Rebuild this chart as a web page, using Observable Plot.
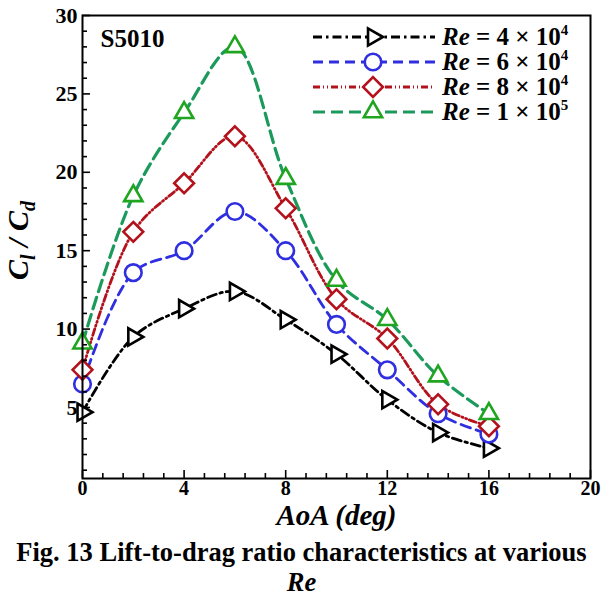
<!DOCTYPE html>
<html><head><meta charset="utf-8">
<script src="https://cdn.jsdelivr.net/npm/d3@7"></script>
<script src="https://cdn.jsdelivr.net/npm/@observablehq/plot@0.6"></script>
<style>
body{margin:0;background:#fff;}
#wrap{width:603px;}
.cap{width:603px;font-family:"Liberation Serif","Times New Roman",serif;font-weight:bold;font-size:26.5px;line-height:30px;text-align:center;color:#000;white-space:nowrap;}
</style></head><body>
<div id="wrap"></div>
<div class="cap">Fig. 13 Lift-to-drag ratio characteristics at various<br><i>Re</i></div>
<script>
// ---- data ----
const aoa  = [0, 2, 4, 6, 8, 10, 12, 14, 16];
const re4  = [4.7, 9.5, 11.3, 12.4, 10.6, 8.4, 5.5, 3.4, 2.4];
const re6  = [6.5, 13.6, 15.0, 17.5, 15.0, 10.3, 7.4, 4.6, 3.3];
const re8  = [7.4, 16.2, 19.3, 22.3, 17.7, 11.9, 9.4, 5.2, 3.8];
const re10 = [9.1, 18.5, 23.8, 28.0, 19.6, 13.1, 10.6, 7.0, 4.6];
const reMantissa = ["4", "6", "8", "1"];
const reExponent = ["4", "4", "4", "5"];
const airfoil = "S5010";
const xMajorTicks = [0, 4, 8, 12, 16, 20];
const yMajorTicks = [5, 10, 15, 20, 25, 30];
const xMinorTicks = d3.range(0, 20.001, 0.8).filter(v => !xMajorTicks.some(t => Math.abs(t - v) < 1e-6));
const yMinorTicks = d3.range(1, 30, 1).filter(v => v % 5 !== 0);
const xLabel = "AoA (deg)";

// ---- symbols ----
const triRight = {draw(ctx, size){const s=Math.sqrt(4*size/Math.sqrt(3)), h=s*Math.sqrt(3)/2; ctx.moveTo(2*h/3,0); ctx.lineTo(-h/3,-s/2); ctx.lineTo(-h/3,s/2); ctx.closePath();}};
const triUp = {draw(ctx, size){const s=Math.sqrt(4*size/Math.sqrt(3)), h=s*Math.sqrt(3)/2; ctx.moveTo(0,-2*h/3); ctx.lineTo(s/2,h/3); ctx.lineTo(-s/2,h/3); ctx.closePath();}};
const diamond = {draw(ctx, size){const d=Math.sqrt(size/2); ctx.moveTo(0,-d); ctx.lineTo(d,0); ctx.lineTo(0,d); ctx.lineTo(-d,0); ctx.closePath();}};
const circ = {draw(ctx, size){const r=Math.sqrt(size/Math.PI); ctx.moveTo(r,0); ctx.arc(0,0,r,0,2*Math.PI);}};

const series = [
  {values: re4,  line: "#000000", mark: "#000000", dash: "9,4,2.5,4",      width: 2.8, symbol: triRight, r: 6.4},
  {values: re6,  line: "#2f2fe0", mark: "#2f2fe0", dash: "10,6",           width: 2.8, symbol: circ,     r: 8.3},
  {values: re8,  line: "#b3121c", mark: "#b3121c", dash: "7,3,1,3,1,3",    width: 2.8, symbol: diamond,  r: 7.9},
  {values: re10, line: "#1c9a5c", mark: "#1fa51f", dash: "12,6",           width: 3.2, symbol: triUp,    r: 6.8}
];

const rows = s => aoa.map((a, i) => ({aoa: a, v: s.values[i]}));
const font = '"Liberation Serif","Times New Roman",serif';

const marks = [];
for (const s of series) {
  marks.push(Plot.line(rows(s), {x: "aoa", y: "v", stroke: s.line, strokeWidth: s.width, strokeDasharray: s.dash, curve: "catmull-rom"}));
}
for (const s of series) {
  marks.push(Plot.dot(rows(s), {x: "aoa", y: "v", symbol: s.symbol, r: s.r, stroke: s.mark, strokeWidth: 2.6, fill: "white"}));
}

const plot = Plot.plot({
  width: 603,
  height: 537,
  marginLeft: 82,
  marginRight: 13,
  marginTop: 15,
  marginBottom: 59,
  style: {fontFamily: font, fontSize: "21px", fontWeight: "bold", color: "#000", background: "#fff"},
  x: {domain: [0, 20]},
  y: {domain: [0.47, 30]},
  marks: [
    ...marks,
    Plot.frame({stroke: "#000", strokeWidth: 2}),
    Plot.axisY(yMajorTicks, {tickSize: 8, dx: 8, fill: "none", label: null, strokeWidth: 1.6}),
    Plot.axisY(yMinorTicks, {tickSize: 5, dx: 5, fill: "none", label: null, strokeWidth: 1.6}),
    Plot.axisX(xMajorTicks, {tickSize: 8, dy: -8, fill: "none", label: null, strokeWidth: 1.6}),
    Plot.axisX(xMinorTicks, {tickSize: 5, dy: -5, fill: "none", label: null, strokeWidth: 1.6}),
    Plot.axisY(yMajorTicks, {tickSize: 0, tickPadding: 5, label: null, fontSize: 22, fontWeight: "bold", tickFormat: d => String(d)}),
    Plot.axisX(xMajorTicks, {tickSize: 0, tickPadding: 2, label: null, fontSize: 20, fontWeight: "bold", tickFormat: d => String(d)}),
    Plot.text([xLabel], {frameAnchor: "bottom", dy: 46, fontSize: 29, fontStyle: "italic", fontWeight: "bold"}),
    Plot.text([airfoil], {frameAnchor: "top-left", dx: 18, dy: 14, lineAnchor: "top", textAnchor: "start", fontSize: 25, fontWeight: "bold"}),
    Plot.text(["C_l / C_d"], {frameAnchor: "left", textAnchor: "middle", rotate: -90, fontSize: 30, fontStyle: "italic", fontWeight: "bold"})
  ]
});
document.getElementById("wrap").appendChild(plot);

// y-label: subscripts and placement
const svg = d3.select(plot);
const yl = svg.selectAll("text").filter(function(){ return this.textContent === "C_l / C_d"; });
yl.each(function(){
  const t = d3.select(this);
  t.text("");
  t.attr("transform", "translate(18,240) rotate(-90)").attr("text-anchor", "middle");
  t.append("tspan").text("C");
  t.append("tspan").attr("font-size", 20).attr("dy", 7).text("l");
  t.append("tspan").attr("dy", -7).text(" / C");
  t.append("tspan").attr("font-size", 20).attr("dy", 7).text("d");
});

// legend
const lg = svg.append("g").attr("font-family", font).attr("font-weight", "bold").attr("text-anchor", "start");
series.forEach((s, i) => {
  const cy = 37 + 25 * i;
  lg.append("line").attr("x1", 313).attr("x2", 435).attr("y1", cy).attr("y2", cy)
    .attr("stroke", s.line).attr("stroke-width", s.width).attr("stroke-dasharray", s.dash);
  lg.append("path").attr("transform", `translate(373,${cy})`)
    .attr("d", d3.symbol(s.symbol, Math.PI * s.r * s.r)())
    .attr("fill", "white").attr("stroke", s.mark).attr("stroke-width", 2.6);
  const t = lg.append("text").attr("x", 442).attr("y", cy + 8).attr("font-size", 25).attr("fill", "#000").attr("text-anchor", "start");
  t.append("tspan").attr("font-style", "italic").text("Re");
  t.append("tspan").text(` = ${reMantissa[i]} × 10`);
  t.append("tspan").attr("font-size", 15).attr("dy", -10).text(reExponent[i]);
});
</script>
</body></html>
